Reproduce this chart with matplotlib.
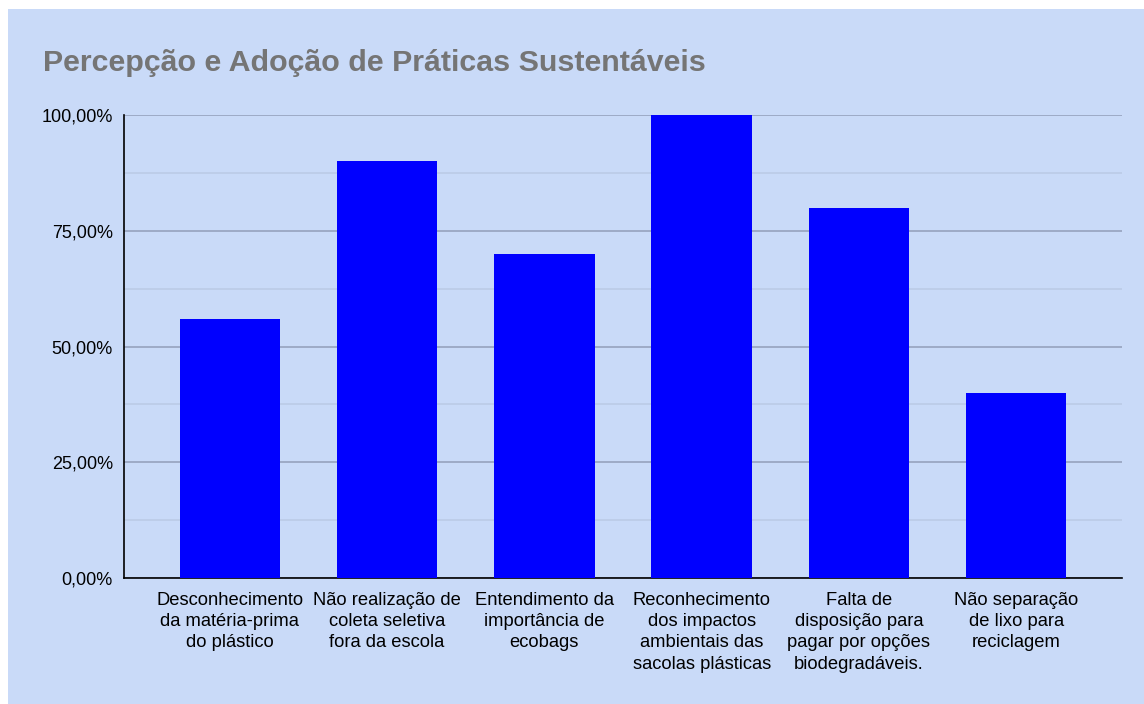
import matplotlib
matplotlib.use("Agg")
import matplotlib.pyplot as plt
from matplotlib.patches import Rectangle
from matplotlib.ticker import FixedLocator, FuncFormatter

categories = [
    "Desconhecimento\nda matéria-prima\ndo plástico",
    "Não realização de\ncoleta seletiva\nfora da escola",
    "Entendimento da\nimportância de\necobags",
    "Reconhecimento\ndos impactos\nambientais das\nsacolas plásticas",
    "Falta de\ndisposição para\npagar por opções\nbiodegradáveis.",
    "Não separação\nde lixo para\nreciclagem",
]
values = [56, 90, 70, 100, 80, 40]
yticks = [0, 25, 50, 75, 100]
title = "Percepção e Adoção de Práticas Sustentáveis"

plt.rcParams['font.family'] = ['Liberation Sans', 'DejaVu Sans']
bg = "#c9daf8"
W, H = 1144, 704
fig = plt.figure(figsize=(W / 100, H / 100), dpi=100)
fig.patch.set_facecolor("white")
fig.patches.append(Rectangle((8 / W, 0), 1 - 8 / W, 1 - 9 / H, transform=fig.transFigure,
                             facecolor=bg, edgecolor="none", zorder=-10))

x0, x1 = 124, 1122
y0, y1 = 578, 115
ax = fig.add_axes([x0 / W, 1 - y0 / H, (x1 - x0) / W, (y0 - y1) / H])
ax.set_facecolor(bg)

xs = list(range(len(categories)))
ax.bar(xs, values, width=0.64, color="#0000ff", zorder=3)
ax.set_xlim(-0.673, len(categories) - 1 + 0.673)
ax.set_ylim(0, 100)

ax.yaxis.set_major_locator(FixedLocator(yticks))
ax.yaxis.set_minor_locator(FixedLocator([12.5, 37.5, 62.5, 87.5]))
ax.yaxis.set_major_formatter(FuncFormatter(lambda v, p: f"{v:.2f}%".replace(".", ",")))
ax.grid(axis="y", which="major", color="#9aa6c2", linewidth=1.3, zorder=1)
ax.grid(axis="y", which="minor", color="#bccce8", linewidth=1.3, zorder=1)
ax.tick_params(axis="y", which="both", length=0, labelsize=13, pad=8, colors="#000000")
ax.set_xticks(xs)
ax.set_xticklabels(categories, fontsize=13.2, linespacing=1.33)
ax.tick_params(axis="x", length=0, pad=10)

for s in ["top", "right"]:
    ax.spines[s].set_visible(False)
ax.spines["left"].set_color("black")
ax.spines["bottom"].set_color("black")
ax.spines["left"].set_linewidth(1.2)
ax.spines["bottom"].set_linewidth(1.2)

fig.text(43 / W, 1 - 63 / H, title, fontsize=21.9, fontweight="bold", color="#757575",
         ha="left", va="center")

fig.savefig("out.png", dpi=100, facecolor=fig.get_facecolor())
